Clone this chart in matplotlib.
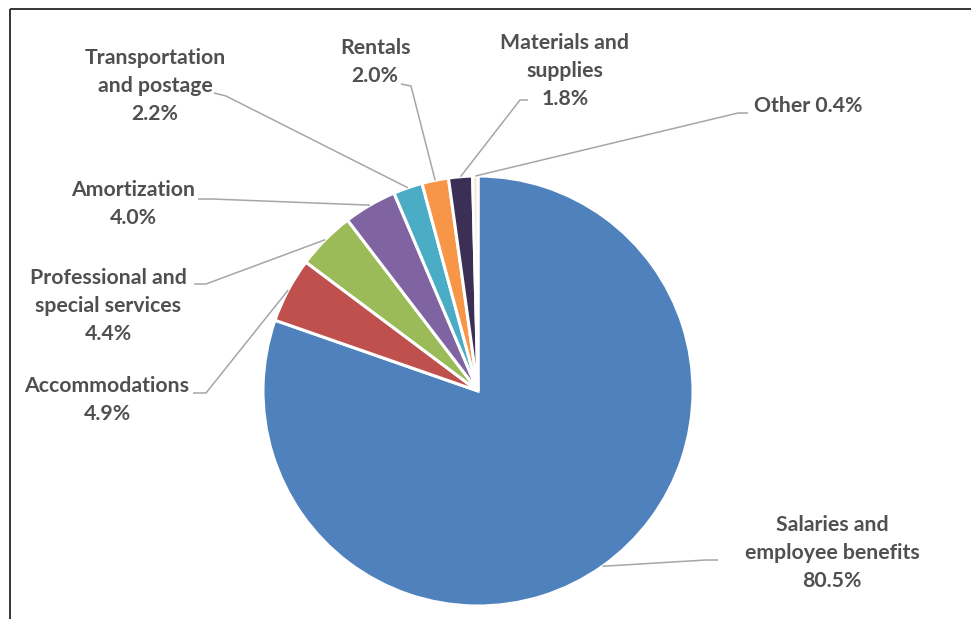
import numpy as np
import matplotlib
matplotlib.use("Agg")
import matplotlib.pyplot as plt

categories = ["Salaries and\nemployee benefits", "Accommodations", "Professional and\nspecial services",
              "Amortization", "Transportation\nand postage", "Rentals", "Materials and\nsupplies", "Other"]
shares = [80.5, 4.9, 4.4, 4.0, 2.2, 2.0, 1.8, 0.4]
colors = ["#4F81BD", "#C0504D", "#9BBB59", "#8064A2", "#4BACC6", "#F79646", "#3B2F55", "#FCE4D6"]

W, H = 971, 619
fig = plt.figure(figsize=(W / 100, H / 100), dpi=100)
ax = fig.add_axes([0, 0, 1, 1])

cx, cy, R = 478, 391, 215          # pie centre / radius in pixel units (y from top)
ax.pie(shares, colors=colors, startangle=90, counterclock=False,
       center=(cx, H - cy), radius=R,
       wedgeprops=dict(edgecolor="white", linewidth=2.2))
ax.set_xlim(0, W)
ax.set_ylim(0, H)
ax.set_aspect("equal")
ax.axis("off")

# label block centres and leader anchor points (pixel coords, y from top)
label_pos = [(832, 553), (107, 400), (108, 306), (133, 204), (155, 86), (375, 62), (565, 71), (808, 106)]
leader = [[(718, 560), (706, 560)], [(193, 393), (206, 393)], [(194, 284), (206, 284)],
          [(198, 199), (212, 199)], [(214, 93), (226, 96)], [(401, 84), (411, 86)],
          [(528, 100), (520, 100)], [(748, 113), (738, 113)]]
single_line = {"Other"}

fracs = np.array(shares) / np.sum(shares)
start = 90.0
txt_color = "#505050"
for i, (cat, val) in enumerate(zip(categories, shares)):
    span = fracs[i] * 360
    mid = np.deg2rad(start - span / 2)
    start -= span
    ex = cx + R * np.cos(mid)
    ey = cy - R * np.sin(mid)
    pts = leader[i] + [(ex, ey)]
    ax.plot([p[0] for p in pts], [H - p[1] for p in pts], color="#A6A6A6", lw=1.1,
            solid_capstyle="butt", zorder=1)
    if cat in single_line:
        s = f"{cat} {val:.1f}%"
    else:
        s = f"{cat}\n{val:.1f}%"
    lx, ly = label_pos[i]
    ax.text(lx, H - ly, s, ha="center", va="center", fontsize=15.3, fontweight="bold",
            family="Lato", color=txt_color, linespacing=1.47)

# chart frame (top and left edges visible)
ax.plot([9.5, W], [H - 8.5, H - 8.5], color="#262626", lw=1.3, solid_capstyle="butt")
ax.plot([9.5, 9.5], [0, H - 8.5], color="#262626", lw=1.3, solid_capstyle="butt")

fig.savefig("out.png", dpi=100, facecolor="white")
